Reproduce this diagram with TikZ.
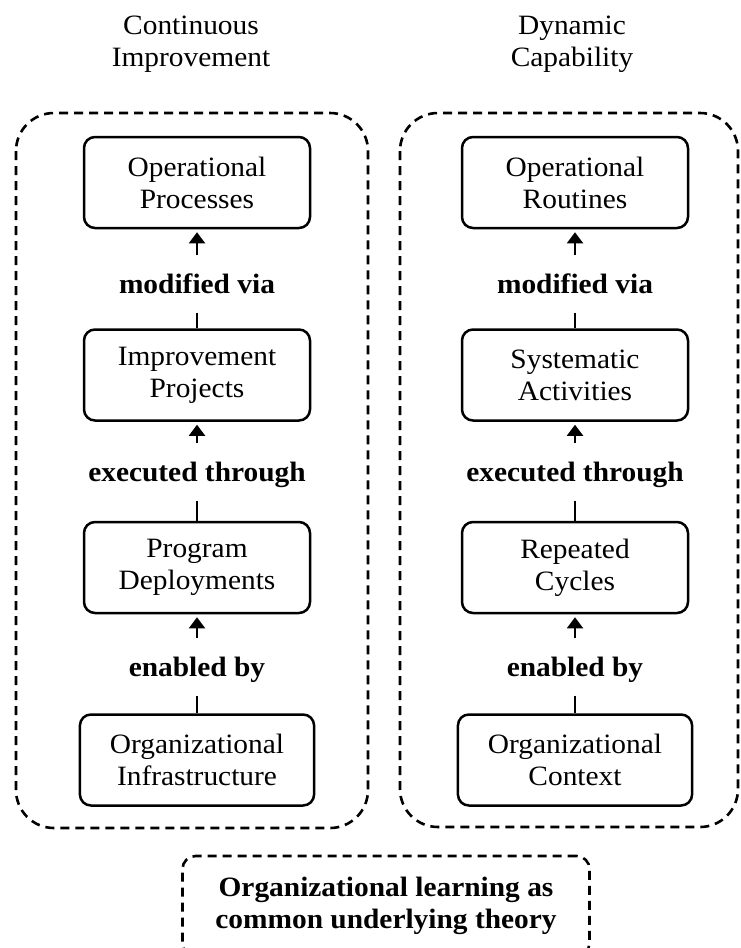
\documentclass[tikz,border=0pt]{standalone}
\usepackage{fontspec}
\setmainfont[FakeStretch=1.05]{Liberation Serif}
\usetikzlibrary{arrows.meta}
\begin{document}
\begin{tikzpicture}[x=1pt,y=-1pt,>={Triangle[width=16pt,length=11pt]},line join=round,
	font=\fontsize{28}{32}\selectfont,
	box/.style={draw,line width=2.5pt,rounded corners=11pt,align=center,inner xsep=30pt,minimum width=226pt,minimum height=91pt},
	via/.style={font=\fontsize{28}{32}\selectfont\bfseries,inner sep=0pt,text height=19pt,text depth=6pt},
	up/.style={->,line width=2pt,shorten <=19pt,shorten >=3pt},
	link/.style={line width=2pt,shorten <=13pt},
	group/.style={line width=2.6pt,dash pattern=on 9pt off 6pt,rounded corners=38pt}]
	\def\xl{197} \def\xr{575}
	\useasboundingbox (0,0) rectangle (740,948);
	% titles
	\node[align=center] (ci) at (191,44) {Continuous\\Improvement};
	\node[align=center] (dc) at (572,44) {Dynamic\\Capability};
	% dashed frames
	\draw[group] (16,113) rectangle (368,828);
	\draw[group] (400,113) rectangle (738,827);
	% continuous improvement
	\node[box] (opp) at (\xl,182.5) {Operational\\Processes};
	\node[via] (mvl) at (\xl,287) {modified via};
	\node[box] (imp) at (\xl,375) {Improvement\\Projects};
	\node[via] (etl) at (\xl,475) {executed through};
	\node[box] (prd) at (\xl,567.5) {Program\\Deployments};
	\node[via] (ebl) at (\xl,670) {enabled by};
	\node[box] (ori) at (\xl,760) {Organizational\\Infrastructure};
	\draw[up] (mvl)--(opp); \draw[link] (mvl)--(imp);
	\draw[up] (etl)--(imp); \draw[link] (etl)--(prd);
	\draw[up] (ebl)--(prd); \draw[link] (ebl)--(ori);
	% dynamic capability
	\node[box] (opr) at (\xr,182.5) {Operational\\Routines};
	\node[via] (mvr) at (\xr,287) {modified via};
	\node[box] (sya) at (\xr,375) {Systematic\\Activities};
	\node[via] (etr) at (\xr,475) {executed through};
	\node[box] (rpc) at (\xr,567.5) {Repeated\\Cycles};
	\node[via] (ebr) at (\xr,670) {enabled by};
	\node[box] (orc) at (\xr,760) {Organizational\\Context};
	\draw[up] (mvr)--(opr); \draw[link] (mvr)--(sya);
	\draw[up] (etr)--(sya); \draw[link] (etr)--(rpc);
	\draw[up] (ebr)--(rpc); \draw[link] (ebr)--(orc);
	% common theory
	\node[draw,group,rounded corners=13pt,minimum width=407pt,minimum height=100pt,align=center,
		font=\fontsize{28}{32}\selectfont\bfseries] (olt) at (386,906) {Organizational learning as\\common underlying theory};
\end{tikzpicture}
\end{document}
